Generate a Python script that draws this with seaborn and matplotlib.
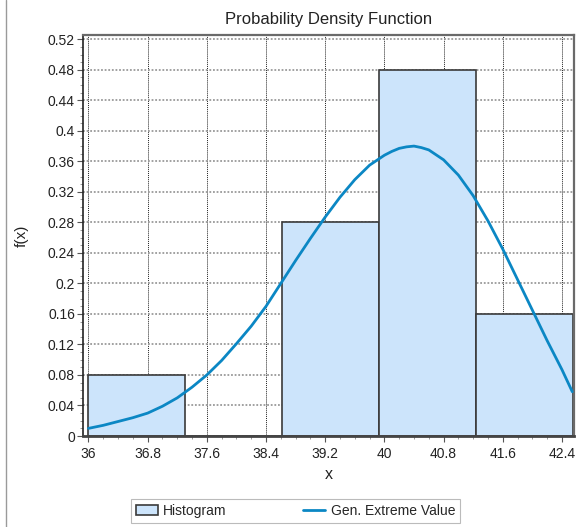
import matplotlib
matplotlib.use("Agg")
import matplotlib.pyplot as plt
from matplotlib.ticker import MultipleLocator, FuncFormatter
from matplotlib.patches import Patch
from matplotlib.lines import Line2D
import seaborn as sns

# ---- data ----
bin_edges = [36.0, 37.31, 38.62, 39.93, 41.24, 42.55]
rel_freq = [0.08, 0.0, 0.28, 0.48, 0.16]

curve_x = [36.0, 36.2, 36.4, 36.6, 36.8, 37.0, 37.2, 37.4, 37.6, 37.8, 38.0,
           38.2, 38.4, 38.6, 38.8, 39.0, 39.2, 39.4, 39.6, 39.8, 40.0, 40.1,
           40.2, 40.3, 40.4, 40.5, 40.6, 40.8, 41.0, 41.2, 41.4, 41.6, 41.8,
           42.0, 42.2, 42.4, 42.54]
curve_f = [0.010, 0.014, 0.019, 0.024, 0.030, 0.039, 0.050, 0.064, 0.080,
           0.099, 0.121, 0.144, 0.170, 0.200, 0.230, 0.259, 0.287, 0.313,
           0.336, 0.355, 0.368, 0.373, 0.377, 0.379, 0.380, 0.378, 0.375,
           0.362, 0.342, 0.315, 0.282, 0.245, 0.205, 0.165, 0.125, 0.087,
           0.058]

x_ticks = [36, 36.8, 37.6, 38.4, 39.2, 40, 40.8, 41.6, 42.4]
y_ticks = [0, 0.04, 0.08, 0.12, 0.16, 0.2, 0.24, 0.28, 0.32, 0.36, 0.4, 0.44, 0.48, 0.52]

title = "Probability Density Function"
xlabel = "x"
ylabel = "f(x)"
legend_labels = ["Histogram", "Gen. Extreme Value"]

# ---- style ----
sns.set_style("white")
plt.rcParams["font.family"] = ["Liberation Sans", "DejaVu Sans"]

bar_face = "#cce4fb"
bar_edge = "#3a3a3a"
line_col = "#0b87c4"

fig = plt.figure(figsize=(5.81, 5.27), dpi=100)
ax = fig.add_axes([83.3 / 581, 1 - 436 / 527, (574.3 - 83.3) / 581, (436 - 34.7) / 527])

centers = [(bin_edges[i] + bin_edges[i + 1]) / 2 for i in range(len(rel_freq))]
sns.histplot(x=centers, weights=rel_freq, bins=bin_edges, stat="count",
             color=bar_face, edgecolor=bar_edge, linewidth=1.2, alpha=1,
             ax=ax, zorder=2)
sns.lineplot(x=curve_x, y=curve_f, color=line_col, linewidth=2.0, ax=ax, zorder=3)

ax.set_xlim(35.93, 42.567)
ax.set_ylim(0, 0.526)
ax.set_xticks(x_ticks)
ax.set_yticks(y_ticks)
fmt = FuncFormatter(lambda v, p: f"{v:g}")
ax.xaxis.set_major_formatter(fmt)
ax.yaxis.set_major_formatter(fmt)
ax.xaxis.set_minor_locator(MultipleLocator(0.2))
ax.yaxis.set_minor_locator(MultipleLocator(0.01))
ax.tick_params(axis="both", which="major", direction="out", length=4, width=0.8,
               color="#555555", labelsize=10, labelcolor="#222222", pad=2,
               bottom=True, left=True)
ax.tick_params(axis="x", which="major", pad=4)
ax.tick_params(axis="both", which="minor", direction="out", length=2, width=0.6,
               color="#888888", bottom=True, left=True)

ax.set_axisbelow(True)
ax.xaxis.grid(True, which="major", linestyle=(0, (1, 1)), color="#222222", linewidth=0.7)
ax.yaxis.grid(True, which="major", linestyle=(0, (1, 1)), color="#9a9a9a", linewidth=1.3)

for s in ax.spines.values():
    s.set_visible(True)
    s.set_color("#6a6a6a")
    s.set_linewidth(1.6)
ax.spines["bottom"].set_color("#444444")
ax.spines["bottom"].set_linewidth(2.0)
ax.spines["left"].set_color("#222222")
ax.spines["left"].set_linewidth(1.2)

ax.set_xlabel(xlabel, fontsize=11.5, color="#222222", labelpad=4)
ax.set_ylabel(ylabel, fontsize=11, color="#222222", labelpad=14)
ax.set_title(title, fontsize=12, color="#222222", pad=8)

handles = [Patch(facecolor=bar_face, edgecolor=bar_edge, linewidth=1.2),
           Line2D([0], [0], color=line_col, linewidth=2.0)]
leg = fig.legend(handles, legend_labels, loc="center", bbox_to_anchor=(295.5 / 581, 1 - 511 / 527),
                 ncol=2, frameon=True, fancybox=False, fontsize=10, columnspacing=5.5,
                 handlelength=1.6, handletextpad=0.4, borderpad=0.35, edgecolor="#aaaaaa")
leg.get_frame().set_linewidth(0.8)

fig.add_artist(Line2D([6 / 581, 6 / 581], [0, 1], transform=fig.transFigure,
                      color="#9a9a9a", linewidth=1.0))

fig.savefig("out.png", dpi=100)
